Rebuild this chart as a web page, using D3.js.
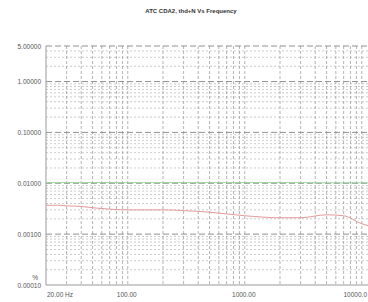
<!DOCTYPE html>
<html>
<head>
<meta charset="utf-8">
<script src="https://cdn.jsdelivr.net/npm/d3@7"></script>
<style>
  body { margin: 0; background: #fff; }
  svg { display: block; font-family: "Liberation Sans", Arial, sans-serif; }
</style>
</head>
<body>
<div class="chart"></div>
<script>
// THD+N vs frequency
var freqs = [20, 25, 30, 40, 50, 70, 100, 200, 300, 500, 1000, 2000, 3000, 5000, 7000, 10000, 15000, 20000]
var thdRed = [0.0037, 0.0037, 0.0036, 0.0035, 0.0033, 0.0031, 0.0030, 0.0030, 0.0029, 0.0027, 0.0023, 0.0021, 0.0021, 0.0024, 0.0023, 0.0016, 0.0013, 0.0012]
var thdGreen = [0.0103, 0.0103, 0.0103, 0.0103, 0.0103, 0.0103, 0.0103, 0.0103, 0.0103, 0.0103, 0.0103, 0.0103, 0.0103, 0.0102, 0.0102, 0.0102, 0.0102, 0.0102]
var yTicks = [5, 1, 0.1, 0.01, 0.001, 0.0001]
var yTickLabels = ['5.00000', '1.00000', '0.10000', '0.01000', '0.00100', '0.00010']
var xTicks = [20, 100, 1000, 10000]
var xTickLabels = ['20.00 Hz', '100.00', '1000.00', '10000.0']

var width = 368
var height = 302

var svg = d3.select('.chart')
  .append('svg')
  .attr('width', width)
  .attr('height', height)

var xScale = d3.scaleLog().domain([20, 20000]).range([46, 397])
var yScale = d3.scaleLog().domain([0.0001, 5]).range([285, 46])

// title
svg.append('text')
  .attr('x', 191)
  .attr('y', 13)
  .attr('text-anchor', 'middle')
  .attr('font-size', 6)
  .attr('font-weight', 'bold')
  .attr('fill', '#333')
  .text('ATC CDA2, thd+N Vs Frequency')

var grid = svg.append('g')

// minor horizontal lines
var yMinor = []
for (var e = -4; e <= 0; e++) {
  for (var m = 2; m <= 9; m++) {
    var v = m * Math.pow(10, e)
    if (v < 5) yMinor.push(v)
  }
}
grid.selectAll('.yminor')
  .data(yMinor)
  .enter()
  .append('line')
  .attr('x1', 46).attr('x2', width)
  .attr('y1', d => yScale(d)).attr('y2', d => yScale(d))
  .attr('stroke', '#b4b4b4')
  .attr('stroke-width', 0.7)
  .attr('stroke-dasharray', '2,2')

// vertical grid lines
var xLines = []
for (var e2 = 1; e2 <= 4; e2++) {
  for (var m2 = 1; m2 <= 9; m2++) {
    var f = m2 * Math.pow(10, e2)
    if (f > 20 && f <= 20000) xLines.push(f)
  }
}
grid.selectAll('.xline')
  .data(xLines)
  .enter()
  .append('line')
  .attr('x1', d => xScale(d)).attr('x2', d => xScale(d))
  .attr('y1', 46).attr('y2', 285)
  .attr('stroke', '#a0a0a0')
  .attr('stroke-width', 0.8)
  .attr('stroke-dasharray', '3,2')

// major horizontal lines
grid.selectAll('.ymajor')
  .data(yTicks.slice(0, 5))
  .enter()
  .append('line')
  .attr('x1', 46).attr('x2', width)
  .attr('y1', d => yScale(d)).attr('y2', d => yScale(d))
  .attr('stroke', '#858585')
  .attr('stroke-width', 0.9)
  .attr('stroke-dasharray', '6,3')

// axes frame
svg.append('line')
  .attr('x1', 46).attr('x2', 46).attr('y1', 46).attr('y2', 285)
  .attr('stroke', '#999').attr('stroke-width', 1)
svg.append('line')
  .attr('x1', 46).attr('x2', width).attr('y1', 285).attr('y2', 285)
  .attr('stroke', '#999').attr('stroke-width', 1)

// data lines
var line = d3.line()
  .x((d, i) => xScale(freqs[i]))
  .y(d => yScale(d))

svg.append('path')
  .datum(thdGreen)
  .attr('d', line)
  .attr('fill', 'none')
  .attr('stroke', '#9ad59a')
  .attr('stroke-width', 1)

svg.append('path')
  .datum(thdRed)
  .attr('d', line.curve(d3.curveMonotoneX))
  .attr('fill', 'none')
  .attr('stroke', '#e59a9a')
  .attr('stroke-width', 1)

// y tick labels
svg.selectAll('.ylabel')
  .data(yTicks)
  .enter()
  .append('text')
  .attr('x', 41)
  .attr('y', d => yScale(d) + 2.5)
  .attr('text-anchor', 'end')
  .attr('font-size', 6.5)
  .attr('fill', '#555')
  .text((d, i) => yTickLabels[i])

svg.append('text')
  .attr('x', 38)
  .attr('y', 280)
  .attr('text-anchor', 'end')
  .attr('font-size', 6.5)
  .attr('fill', '#555')
  .text('%')

// x tick labels
svg.selectAll('.xlabel')
  .data(xTicks)
  .enter()
  .append('text')
  .attr('x', (d, i) => i === 0 ? 47 : (i === 3 ? 367 : xScale(d) - 1))
  .attr('y', 297)
  .attr('text-anchor', (d, i) => i === 0 ? 'start' : (i === 3 ? 'end' : 'middle'))
  .attr('font-size', 6.5)
  .attr('fill', '#555')
  .text((d, i) => xTickLabels[i])
</script>
</body>
</html>
